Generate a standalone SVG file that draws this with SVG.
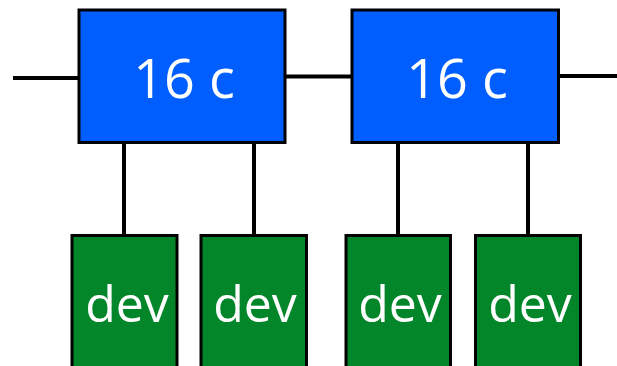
<svg xmlns="http://www.w3.org/2000/svg" width="617" height="366" viewBox="0 0 617 366">
  <style>
    .wire { stroke: #000; stroke-width: 4; fill: none; }
    .cpu rect { fill: #005eff; stroke: #000; stroke-width: 3; }
    .dev rect { fill: #03852a; stroke: #000; stroke-width: 3; }
    text { fill: #fff; font-family: "Open Sans", "DejaVu Sans", sans-serif; text-anchor: middle; }
    .cpu text { font-size: 54px; }
    .dev text { font-size: 50px; }
  </style>
  <rect width="617" height="366" fill="#fff"/>
  <g id="connectors">
    <line class="wire" x1="13" y1="78" x2="80" y2="78"/>
    <line class="wire" x1="285" y1="76.5" x2="352" y2="76.5"/>
    <line class="wire" x1="558" y1="76" x2="617" y2="76"/>
    <line class="wire" x1="124" y1="142" x2="124" y2="236"/>
    <line class="wire" x1="254" y1="142" x2="254" y2="236"/>
    <line class="wire" x1="398" y1="142" x2="398" y2="236"/>
    <line class="wire" x1="528" y1="142" x2="528" y2="236"/>
  </g>
  <g id="cpu1" class="cpu">
    <rect x="79" y="10" width="206" height="132.5"/>
    <text x="184" y="98">16 c</text>
  </g>
  <g id="cpu2" class="cpu">
    <rect x="352" y="10" width="206.5" height="132.5"/>
    <text x="457" y="98">16 c</text>
  </g>
  <g id="dev1" class="dev">
    <rect x="72" y="235.5" width="105" height="140"/>
    <text x="127" y="322">dev</text>
  </g>
  <g id="dev2" class="dev">
    <rect x="201" y="235.5" width="105.5" height="140"/>
    <text x="255" y="322">dev</text>
  </g>
  <g id="dev3" class="dev">
    <rect x="346" y="235.5" width="104.5" height="140"/>
    <text x="400" y="322">dev</text>
  </g>
  <g id="dev4" class="dev">
    <rect x="475.5" y="235.5" width="105" height="140"/>
    <text x="530" y="322">dev</text>
  </g>
</svg>
